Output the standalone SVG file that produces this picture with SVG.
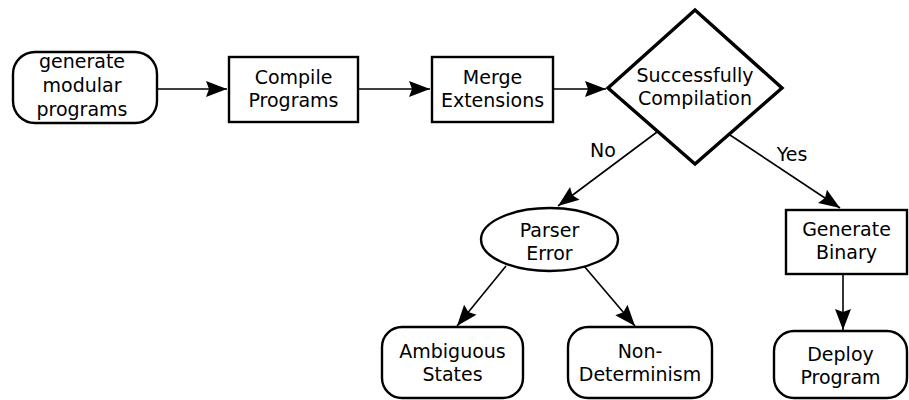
<svg xmlns="http://www.w3.org/2000/svg" width="909" height="400" viewBox="0 0 909 400">
<defs>
<style>
.box{fill:#fff;stroke:#000;stroke-width:2.4}
.dia{fill:#fff;stroke:#000;stroke-width:3.4}
.t{font-family:"DejaVu Sans",sans-serif;font-size:19px;fill:#000;text-anchor:middle}
.c{fill:none;stroke:#000;stroke-width:1.6}
</style>
<marker id="ah" viewBox="-22 -9 23 18" refX="0" refY="0" markerWidth="23" markerHeight="18" markerUnits="userSpaceOnUse" orient="auto">
<path d="M0,0 L-21,-8 L-18,0 L-21,8 Z" fill="#000"/>
</marker>
</defs>
<rect width="909" height="400" fill="#fff"/>
<g id="connectors">
<line class="c" x1="157" y1="89" x2="227" y2="89" marker-end="url(#ah)"/>
<line class="c" x1="358" y1="89" x2="430" y2="89" marker-end="url(#ah)"/>
<line class="c" x1="553" y1="89" x2="606" y2="89" marker-end="url(#ah)"/>
<line class="c" x1="657" y1="132" x2="558" y2="206" marker-end="url(#ah)"/>
<line class="c" x1="730" y1="135" x2="840" y2="208" marker-end="url(#ah)"/>
<line class="c" x1="843" y1="274" x2="843" y2="330" marker-end="url(#ah)"/>
<line class="c" x1="506" y1="266" x2="457" y2="326" marker-end="url(#ah)"/>
<line class="c" x1="584" y1="266" x2="635" y2="326" marker-end="url(#ah)"/>
<text class="t" x="603" y="157">No</text>
<text class="t" x="792" y="161">Yes</text>
</g>
<g id="n1">
<rect class="box" x="13" y="52" width="144" height="71" rx="22" ry="22"/>
<text class="t" x="82" y="68">generate</text>
<text class="t" x="82" y="92">modular</text>
<text class="t" x="82" y="116">programs</text>
</g>
<g id="n2">
<rect class="box" x="229" y="57" width="129" height="65"/>
<text class="t" x="293.5" y="84">Compile</text>
<text class="t" x="293.5" y="107">Programs</text>
</g>
<g id="n3">
<rect class="box" x="432" y="57" width="121" height="65"/>
<text class="t" x="492.5" y="84">Merge</text>
<text class="t" x="492.5" y="107">Extensions</text>
</g>
<g id="n4">
<polygon class="dia" points="695,10 782,88 695,164 608,88"/>
<text class="t" x="695" y="82">Successfully</text>
<text class="t" x="695" y="105">Compilation</text>
</g>
<g id="n5">
<ellipse class="box" cx="549.5" cy="239.5" rx="68.5" ry="31.5"/>
<text class="t" x="549.5" y="237">Parser</text>
<text class="t" x="549.5" y="260">Error</text>
</g>
<g id="n6">
<rect class="box" x="786" y="210" width="121" height="64"/>
<text class="t" x="846.5" y="236">Generate</text>
<text class="t" x="846.5" y="259">Binary</text>
</g>
<g id="n7">
<rect class="box" x="382" y="327" width="141" height="71" rx="20" ry="20"/>
<text class="t" x="452.5" y="358">Ambiguous</text>
<text class="t" x="452.5" y="381">States</text>
</g>
<g id="n8">
<rect class="box" x="568" y="327" width="144" height="71" rx="20" ry="20"/>
<text class="t" x="640" y="358">Non-</text>
<text class="t" x="640" y="381">Determinism</text>
</g>
<g id="n9">
<rect class="box" x="774" y="331" width="133" height="67" rx="20" ry="20"/>
<text class="t" x="840.5" y="361">Deploy</text>
<text class="t" x="840.5" y="384">Program</text>
</g>
</svg>
